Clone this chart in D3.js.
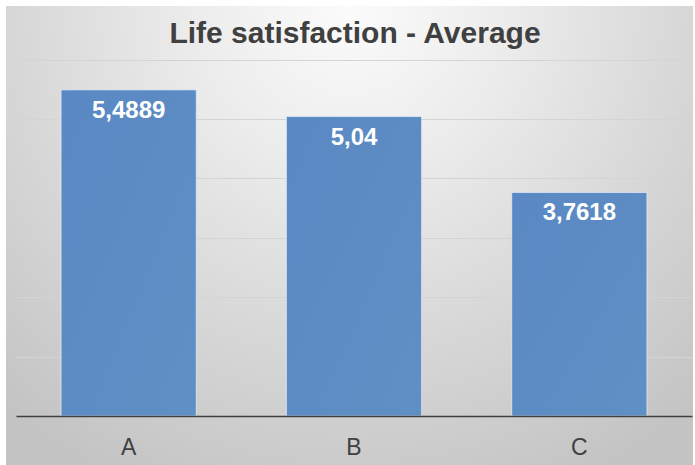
<!DOCTYPE html>
<html>
<head>
<meta charset="utf-8">
<script src="https://cdn.jsdelivr.net/npm/d3@7"></script>
<style>
  body { margin: 0; background: #fff; }
  svg { display: block; font-family: "Liberation Sans", Arial, sans-serif; }
</style>
</head>
<body>
<svg id="chart" width="695" height="465"></svg>
<script>
const categories = ['A', 'B', 'C'];
const values = [5.4889, 5.04, 3.7618];
const valueLabels = ['5,4889', '5,04', '3,7618'];
const yTicks = [0, 1, 2, 3, 4, 5, 6];

const W = 695, H = 465;
const margin = {top: 59.5, right: 3, bottom: 49, left: 16};

const svg = d3.select('#chart');
const defs = svg.append('defs');

const bg = defs.append('radialGradient')
    .attr('id', 'bg')
    .attr('gradientUnits', 'userSpaceOnUse')
    .attr('cx', 350).attr('cy', 10).attr('r', 520);
bg.append('stop').attr('offset', '0%').attr('stop-color', '#fbfbfb');
bg.append('stop').attr('offset', '30%').attr('stop-color', '#ececec');
bg.append('stop').attr('offset', '65%').attr('stop-color', '#d7d7d7');
bg.append('stop').attr('offset', '100%').attr('stop-color', '#c4c4c4');

const barGrad = defs.append('linearGradient')
    .attr('id', 'bar')
    .attr('x1', '0%').attr('y1', '0%').attr('x2', '100%').attr('y2', '100%');
barGrad.append('stop').attr('offset', '0%').attr('stop-color', '#5a88c4');
barGrad.append('stop').attr('offset', '100%').attr('stop-color', '#5f90c4');

// chart area background
svg.append('rect')
    .attr('x', 6).attr('y', 6)
    .attr('width', W - 8).attr('height', H - 6)
    .attr('fill', 'url(#bg)');

const x = d3.scaleBand()
    .domain(categories)
    .range([margin.left, W - margin.right])
    .paddingInner(0.4)
    .paddingOuter(0.2);

const y = d3.scaleLinear()
    .domain([0, 6])
    .range([H - margin.bottom, margin.top]);

// gridlines
svg.append('g')
    .selectAll('line')
    .data(yTicks.slice(1))
    .enter()
    .append('line')
    .attr('x1', margin.left).attr('x2', W - margin.right)
    .attr('y1', d => Math.round(y(d)) + 0.5)
    .attr('y2', d => Math.round(y(d)) + 0.5)
    .attr('stroke', '#d4d4d4')
    .attr('stroke-width', 1);

// bars
svg.append('g')
    .selectAll('rect')
    .data(values)
    .enter()
    .append('rect')
    .attr('x', (d, i) => x(categories[i]))
    .attr('y', d => y(d))
    .attr('width', x.bandwidth())
    .attr('height', d => y(0) - y(d))
    .attr('fill', 'url(#bar)')
    .attr('stroke', '#e8eef6')
    .attr('stroke-opacity', 0.7)
    .attr('stroke-width', 1);

// value labels
svg.append('g')
    .selectAll('text')
    .data(values)
    .enter()
    .append('text')
    .attr('x', (d, i) => x(categories[i]) + x.bandwidth() / 2)
    .attr('y', d => y(d) + 28)
    .attr('text-anchor', 'middle')
    .attr('fill', '#ffffff')
    .attr('font-weight', 'bold')
    .attr('font-size', 24)
    .text((d, i) => valueLabels[i]);

// x axis baseline
const xAxis = svg.append('g')
    .attr('transform', `translate(0,${y(0)})`)
    .call(d3.axisBottom(x).tickSize(0).tickPadding(23));
xAxis.select('.domain').attr('stroke', '#404040').attr('stroke-width', 1.5);
xAxis.selectAll('text')
    .attr('fill', '#404040')
    .attr('font-size', 23)
    .attr('font-family', '"Liberation Sans", Arial, sans-serif');

// title
svg.append('text')
    .attr('x', 355)
    .attr('y', 43)
    .attr('text-anchor', 'middle')
    .attr('fill', '#404040')
    .attr('font-weight', 'bold')
    .attr('font-size', 30)
    .text('Life satisfaction - Average');
</script>
</body>
</html>
